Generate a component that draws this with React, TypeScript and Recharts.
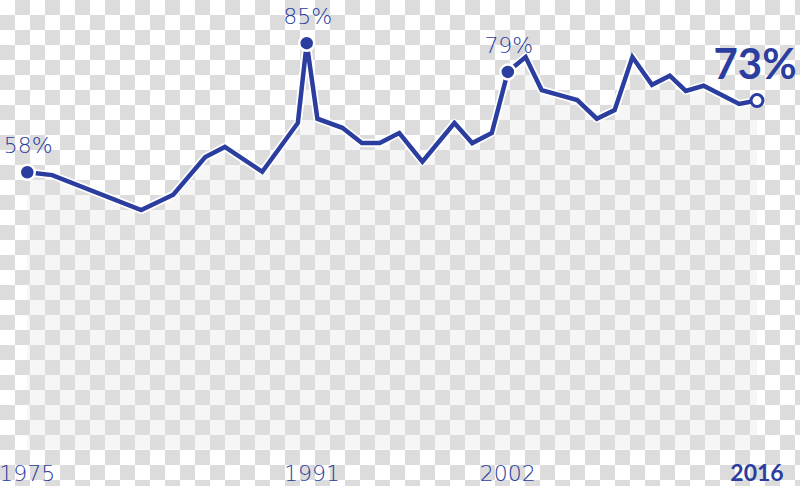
import React from 'react';
import { ComposedChart, Line, Area, XAxis, YAxis } from 'recharts';

const years = [1975, 1976.4, 1981.4, 1983.2, 1985.0, 1986.1, 1988.2, 1990.2, 1990.7, 1991.3, 1992.7, 1993.8, 1994.8, 1995.9, 1997.2, 1999.0, 2000.0, 2001.1, 2002.0, 2003.0, 2003.9, 2005.9, 2007.0, 2008.0, 2009.0, 2010.1, 2011.1, 2012.0, 2013.0, 2015.0, 2016];
const values = [58, 57.4, 50.1, 53.3, 61.2, 63.3, 58.1, 68.3, 85, 69.2, 67.3, 64.1, 64.1, 66.2, 60.2, 68.3, 64.1, 66.2, 79, 82.1, 75.2, 73.1, 69.2, 71.0, 82.1, 76.3, 78.2, 75.0, 76.1, 72.3, 73];
const calloutIdx = [0, 8, 18, 30];
const calloutText = ['58%', '85%', '79%', '73%'];
const xTicks = [1975, 1991, 2002, 2016];

const BLUE = '#2b3d9f';
const LIGHT_FONT = '"DejaVu Sans", Lato, sans-serif';
const BOLD_FONT = 'Lato, "Open Sans", sans-serif';

const data = years.map((y, i) => {
  const k = calloutIdx.indexOf(i);
  return { year: y, value: values[i], label: k >= 0 ? calloutText[k] : '' };
});

const lastIndex = data.length - 1;

const renderDot = (props: any) => {
  const { cx, cy, index, payload } = props;
  if (!payload || !payload.label) return <g key={`d${index}`} />;
  const isLast = index === lastIndex;
  return (
    <g key={`d${index}`}>
      {isLast ? (
        <circle cx={cx} cy={cy} r={6} fill="#fff" stroke={BLUE} strokeWidth={3} />
      ) : (
        <circle cx={cx} cy={cy} r={7.5} fill={BLUE} stroke="#fff" strokeWidth={2.5} />
      )}
      <text
        x={cx + (isLast ? -2 : 1)}
        y={cy - (isLast ? 22 : 19)}
        textAnchor="middle"
        fill={BLUE}
        fontFamily={isLast ? BOLD_FONT : LIGHT_FONT}
        fontWeight={isLast ? 700 : 200}
        fontSize={isLast ? 42 : 22}
      >
        {payload.label}
      </text>
    </g>
  );
};

const renderTick = (props: any) => {
  const { x, y, payload } = props;
  const isLast = payload.value === xTicks[xTicks.length - 1];
  return (
    <text
      x={x}
      y={y + 23}
      textAnchor="middle"
      fill={BLUE}
      fontFamily={isLast ? BOLD_FONT : LIGHT_FONT}
      fontWeight={isLast ? 700 : 200}
      fontSize={isLast ? 23 : 22}
    >
      {payload.value}
    </text>
  );
};

export default function App() {
  return (
    <div
      style={{
        width: 800,
        height: 486,
        backgroundColor: '#ffffff',
        backgroundImage: 'repeating-conic-gradient(#dcdcdc 0% 25%, #ffffff 0% 50%)',
        backgroundSize: '30px 30px',
        backgroundPosition: '0 0',
      }}
    >
      <style>{`body{margin:0}`}</style>
      <ComposedChart
        width={800}
        height={486}
        data={data}
        margin={{ top: 19.3, right: 43, bottom: 0, left: 27.3 }}
      >
        <XAxis
          dataKey="year"
          type="number"
          domain={[1975, 2016]}
          ticks={xTicks}
          axisLine={false}
          tickLine={false}
          height={36.5}
          interval={0}
          tick={renderTick}
        />
        <YAxis hide domain={[0, 90]} type="number" />
        <Area
          type="linear"
          dataKey="value"
          stroke="none"
          fill="#e2e2e2"
          fillOpacity={0.3}
          isAnimationActive={false}
        />
        <Line
          type="linear"
          dataKey="value"
          stroke="#ffffff"
          strokeWidth={8}
          strokeLinejoin="round"
          dot={false}
          activeDot={false}
          isAnimationActive={false}
        />
        <Line
          type="linear"
          dataKey="value"
          stroke={BLUE}
          strokeWidth={4.5}
          strokeLinejoin="miter"
          dot={renderDot}
          activeDot={false}
          isAnimationActive={false}
        />
      </ComposedChart>
    </div>
  );
}
